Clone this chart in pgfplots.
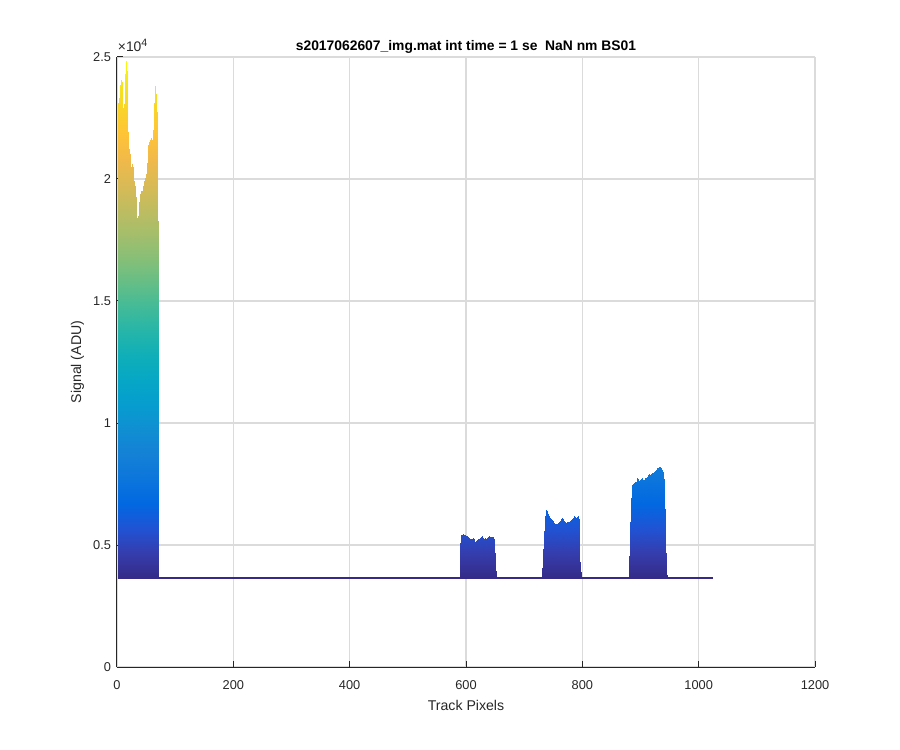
\documentclass[border=0pt]{standalone}
\usepackage{fontspec}
\setmainfont{Liberation Sans}
\usepackage{pgfplots}
\pgfplotsset{compat=1.18}
\definecolor{axc}{rgb}{0.15,0.15,0.15}
\definecolor{gridc}{rgb}{0.86,0.86,0.86}
\definecolor{basec}{rgb}{0.2081,0.1663,0.5292}
\pgfplotsset{
  colormap={parula}{
    rgb=(0.2081,0.1663,0.5292) rgb=(0.2081,0.2386,0.6771) rgb=(0.1253,0.3242,0.8303)
    rgb=(0.0060,0.4086,0.8828) rgb=(0.0498,0.4586,0.8641) rgb=(0.0779,0.5040,0.8384)
    rgb=(0.0641,0.5570,0.8240) rgb=(0.0265,0.6137,0.8135) rgb=(0.0228,0.6535,0.7768)
    rgb=(0.0590,0.6838,0.7254) rgb=(0.1453,0.7098,0.6646) rgb=(0.2586,0.7317,0.5954)
    rgb=(0.3953,0.7459,0.5244) rgb=(0.5300,0.7491,0.4661) rgb=(0.6473,0.7456,0.4188)
    rgb=(0.7525,0.7384,0.3768) rgb=(0.8507,0.7299,0.3360) rgb=(0.9450,0.7261,0.2886)
    rgb=(0.9990,0.7653,0.2164) rgb=(0.9789,0.8271,0.1633) rgb=(0.9589,0.8949,0.1132)
    rgb=(0.9763,0.9831,0.0538)
  }
}
\begin{document}
\begin{tikzpicture}
\path[use as bounding box] (-87.75pt,-62.25pt) rectangle (587.25pt,500.25pt);
\begin{axis}[
  at={(0pt,0pt)}, anchor=south west,
  scale only axis, width=523.5pt, height=457.5pt,
  xmin=0, xmax=1200, ymin=0, ymax=25000,
  xtick={0,200,...,1200}, ytick={0,5000,...,25000},
  yticklabels={0,0.5,1,1.5,2,2.5},
  scaled y ticks=false, scaled x ticks=false,
  /pgf/number format/1000 sep={},
  /pgf/number format/assume math mode=true,
  axis x line*=bottom, axis y line*=left,
  axis line style={axc, line width=0.75pt},
  tick align=inside, major tick length=4.5pt,
  tick style={axc, line width=0.75pt},
  grid=major, major grid style={gridc, line width=0.85pt},
  clip mode=individual,
  ticklabel style={font=\fontsize{9.6}{11}\selectfont, text=axc},
  xticklabel style={yshift=-6.5pt},
  yticklabel style={xshift=-1pt},
  xlabel={Track Pixels}, ylabel={Signal (ADU)},
  label style={font=\fontsize{10.6}{12}\selectfont, text=axc},
  xlabel style={yshift=-1pt},
  ylabel style={yshift=0pt},
  every axis title shift=0pt,
  title={s2017062607\_img.mat int time = 1 se \ NaN nm BS01},
  title style={font=\bfseries\fontsize{10.4}{12}\selectfont, text=black, at={(0.5,1)}, anchor=base, yshift=4.5pt, inner sep=0pt},
  colormap name=parula, point meta min=3640, point meta max=24850,
]
\addplot[surf, shader=interp, mesh/ordering=y varies, mesh/rows=2, point meta=y] coordinates {
(1,3640) (1,22000) (2,3640) (2,23000) (3,3640) (3,23300) (4,3640) (4,22600)
(5,3640) (5,23200) (6,3640) (6,23700) (7,3640) (7,24050) (8,3640) (8,23900)
(9,3640) (9,23000) (10,3640) (10,22600) (11,3640) (11,22900) (12,3640) (12,22700)
(13,3640) (13,23500) (14,3640) (14,24100) (15,3640) (15,24600) (16,3640) (16,24850)
(17,3640) (17,24000) (18,3640) (18,22500) (19,3640) (19,21400) (20,3640) (20,21100)
(21,3640) (21,21200) (22,3640) (22,20900) (23,3640) (23,20600) (24,3640) (24,20400)
(25,3640) (25,20600) (26,3640) (26,20300) (27,3640) (27,20500) (28,3640) (28,20100)
(29,3640) (29,19800) (30,3640) (30,19900) (31,3640) (31,19500) (32,3640) (32,19000)
(33,3640) (33,18600) (34,3640) (34,18200) (35,3640) (35,17900) (36,3640) (36,18300)
(37,3640) (37,18700) (38,3640) (38,19000) (39,3640) (39,19200) (40,3640) (40,19400)
(41,3640) (41,19300) (42,3640) (42,19500) (43,3640) (43,19400) (44,3640) (44,19700)
(45,3640) (45,19600) (46,3640) (46,19900) (47,3640) (47,19800) (48,3640) (48,20000)
(49,3640) (49,19900) (50,3640) (50,20200) (51,3640) (51,20100) (52,3640) (52,20500)
(53,3640) (53,20900) (54,3640) (54,21300) (55,3640) (55,21500) (56,3640) (56,21600)
(57,3640) (57,21400) (58,3640) (58,21700) (59,3640) (59,21500) (60,3640) (60,21600)
(61,3640) (61,21400) (62,3640) (62,21800) (63,3640) (63,22300) (64,3640) (64,22900)
(65,3640) (65,23400) (66,3640) (66,23800) (67,3640) (67,23200) (68,3640) (68,22300)
(69,3640) (69,21600) (70,3640) (70,15000) (71,3640) (71,3690)
(72,3640) (72,3680) (150,3640) (150,3685) (300,3640) (300,3680) (450,3640) (450,3684)
(588,3640) (588,3682)
(589.5,3640) (589.5,3690) (590.5,3640) (590.5,4800) (591.5,3640) (591.5,5400)
(594.8,3640) (594.8,5450) (598.2,3640) (598.2,5420) (601,3640) (601,5380)
(603.4,3640) (603.4,5320) (606,3640) (606,5260) (608,3640) (608,5230)
(611.5,3640) (611.5,5270) (613,3640) (613,5200) (615.4,3640) (615.4,5070)
(618,3640) (618,5150) (621,3640) (621,5230) (624,3640) (624,5300)
(627,3640) (627,5380) (629.7,3640) (629.7,5230) (632,3640) (632,5280)
(634.3,3640) (634.3,5260) (637,3640) (637,5320) (640,3640) (640,5370)
(643,3640) (643,5340) (645.9,3640) (645.9,5330) (648,3640) (648,5200)
(649.8,3640) (649.8,4200) (651.5,3640) (651.5,3690)
(653,3640) (653,3680) (700,3640) (700,3682) (731.5,3640) (731.5,3684)
(733,3640) (733,4500) (735,3640) (735,6000) (737,3640) (737,6430)
(739,3640) (739,6350) (741.5,3640) (741.5,6230) (744,3640) (744,6120)
(747.3,3640) (747.3,6020) (750,3640) (750,5930) (753,3640) (753,5860)
(756,3640) (756,5880) (758.6,3640) (758.6,5915) (762,3640) (762,6000)
(765.5,3640) (765.5,6090) (768,3640) (768,5980) (770.2,3640) (770.2,5915)
(773,3640) (773,5940) (775.8,3640) (775.8,5960) (778.5,3640) (778.5,6000)
(781.7,3640) (781.7,6050) (784,3640) (784,6120) (786.2,3640) (786.2,6190)
(789,3640) (789,6090) (792,3640) (792,6190) (793.5,3640) (793.5,6000)
(795,3640) (795,4500) (797,3640) (797,3690)
(799,3640) (799,3680) (850,3640) (850,3683) (879.5,3640) (879.5,3682)
(880.7,3640) (880.7,3700) (882.5,3640) (882.5,5500) (884.8,3640) (884.8,7460)
(887,3640) (887,7480) (890.5,3640) (890.5,7590) (892.5,3640) (892.5,7520)
(894.4,3640) (894.4,7730) (897.9,3640) (897.9,7620) (900,3640) (900,7680)
(902,3640) (902,7730) (904,3640) (904,7640) (906,3640) (906,7660)
(908.5,3640) (908.5,7750) (910.6,3640) (910.6,7800) (913,3640) (913,7850)
(915,3640) (915,7900) (917,3640) (917,7870) (919.2,3640) (919.2,7940)
(921.5,3640) (921.5,7960) (923.7,3640) (923.7,8000) (926,3640) (926,8080)
(927.8,3640) (927.8,8170) (929.5,3640) (929.5,8150) (931.7,3640) (931.7,8210)
(933.5,3640) (933.5,8180) (935.2,3640) (935.2,8110) (936.7,3640) (936.7,8050)
(938.1,3640) (938.1,7940) (940.3,3640) (940.3,7500) (942,3640) (942,5500)
(943.5,3640) (943.5,3900) (945,3640) (945,3690)
(947,3640) (947,3680) (1000,3640) (1000,3682) (1024,3640) (1024,3680)
};
\addplot[basec, line width=0.75pt] coordinates {(71,3662) (300,3660) (589,3663) (652,3661) (733,3662) (797,3660) (880,3661) (945,3662) (1024,3660)};
\node[anchor=base west, inner sep=0pt, font=\fontsize{10.4}{12}\selectfont, text=axc] at (rel axis cs:0,1) [yshift=4pt, xshift=0.5pt] {×10\raisebox{4.2pt}{\fontsize{8}{9}\selectfont 4}};
\end{axis}
\end{tikzpicture}
\end{document}
